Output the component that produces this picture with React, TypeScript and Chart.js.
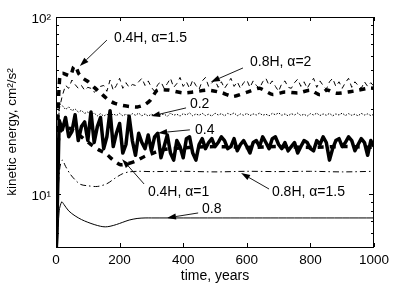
import React, { useEffect, useRef } from 'react';
import { Chart, registerables } from 'chart.js';
Chart.register(...registerables);

const FONT = '"Liberation Sans", Arial, Helvetica, sans-serif';

// sampled years for the noisy runs (every 10 years)
const years = Array.from({ length: 101 }, (_, i) => i * 10);

// 0.4 (thick solid, noisy)
const k04 = [
  4, 26, 23, 27, 21, 22.5, 28, 20, 24, 25.5,
  20, 29, 19.5, 24, 27, 18, 21, 29.5, 18.5, 22,
  25, 17, 19, 27.5, 20, 16.5, 22, 19.5, 18, 21.5,
  17.5, 21, 22, 16, 18.5, 21.5, 17, 15.5, 20, 18.5,
  16, 20.5, 21, 17, 15.5, 19, 20.5, 18, 19.5, 20.5,
  18.5, 19.5, 21, 20, 18, 18.5, 20.5, 17.5, 19, 20,
  18.5, 17, 19.5, 20, 18.5, 21, 19.5, 18, 20.5, 21,
  19, 18, 19.5, 17.5, 18.5, 19.5, 17, 18.5, 20, 19.5,
  18, 17.5, 20, 19, 21, 19.5, 15.5, 18, 20, 20.5,
  18.5, 19.5, 21, 20, 17.5, 19, 20.5, 19.5, 16.5, 20,
  18.5,
];

// 0.2 (thin dotted)
const k02 = [
  4, 32.6, 31.5, 30, 31, 29.5, 30.2, 29, 29.6, 28.5,
  29, 28, 28.6, 27.6, 28.4, 27.5, 28.2, 27.4, 28.3, 27.7,
  28.5, 27.6, 28.2, 27.5, 28.4, 27.8, 28.6, 27.6, 28.3, 27.5,
  28.2, 27.7, 28.5, 27.9, 28.3, 27.4, 28.6, 27.8, 28.2, 27.5,
  28.4, 27.9, 28.7, 27.6, 28.3, 27.8, 28.5, 27.7, 28.2, 27.5,
  28.6, 27.9, 28.4, 27.6, 28.5, 28.0, 28.7, 27.6, 28.3, 27.8,
  28.5, 27.7, 28.3, 27.9, 28.6, 27.8, 28.2, 27.6, 28.5, 28.0,
  28.7, 27.8, 28.3, 27.6, 28.4, 27.9, 28.6, 27.7, 28.2, 27.5,
  28.4, 27.9, 28.6, 27.7, 28.3, 27.8, 28.5, 27.6, 28.3, 27.9,
  28.6, 27.7, 28.4, 27.8, 28.2, 27.6, 28.5, 27.9, 28.3, 27.7,
  28.2,
];

// 0.8H, alpha=2 (thin dashed)
const k08a2 = [
  4, 30, 36, 41, 39.5, 44, 41.5, 39.5, 41, 38.5,
  40, 39.5, 37.5, 39, 40.5, 41, 38, 44, 38.5, 41,
  45, 39.5, 42.5, 40, 41.5, 41, 43, 45, 41, 43.5,
  40, 38, 41.5, 43, 39.5, 42, 45, 40, 42, 45.5,
  40.5, 43, 39.5, 44, 41, 39, 43.5, 45.5, 40.5, 42.5,
  44, 40, 43, 39.5, 42, 45, 40.5, 43, 39.5, 42.5,
  44, 40, 43.5, 41, 39.5, 43, 45, 41, 43.5, 40.5,
  38, 42, 43.5, 40, 39.5, 42.5, 44.5, 40.5, 43, 39.5,
  42.5, 45, 40, 43.5, 41, 39, 43, 45, 40.5, 43,
  39.5, 42.5, 45, 40, 43, 41, 39.5, 43, 40.5, 42.5,
  40.5,
];

// 0.4H, alpha=1.5 (thick dashed)
const t04a15 = [0, 5, 12, 20, 35, 46, 55, 61, 71, 85, 102, 120, 140, 165, 185, 203, 230, 256, 280, 297, 319, 354, 397, 430, 479, 523, 557, 601, 640, 680, 720, 761, 800, 830, 852, 880, 918, 950, 987, 1000];
const k04a15 = [4, 25, 46, 48, 47, 46.5, 52, 53, 48, 45, 42.9, 40, 37.2, 33.9, 32.5, 31.8, 31.2, 31, 32, 33.9, 38.6, 38.6, 37.2, 37.6, 38.6, 37.2, 35.5, 37.6, 39.5, 36.5, 37.6, 37.2, 38.5, 36.3, 38.7, 37, 37.6, 38.5, 39.7, 39.5];

// 0.4H, alpha=1 (thick dashed)
const t04a1 = [0, 5, 15, 30, 50, 80, 110, 140, 155, 180, 203, 225, 250, 280, 306, 340, 400, 500, 600, 700, 800, 900, 1000];
const k04a1 = [4, 18, 23, 24, 23, 21, 19, 17.5, 17, 15.5, 14.6, 14.8, 15.3, 16.3, 17, 17.8, 18.2, 18.5, 18.3, 18.5, 18.3, 18.5, 18.3];

// 0.8H, alpha=1.5 (thin dash-dot)
const t08a15 = [0, 5, 12, 20, 30, 45, 60, 77, 100, 130, 160, 187, 210, 230, 260, 300, 400, 500, 600, 700, 800, 900, 1000];
const k08a15 = [4, 9, 14, 15.5, 14.3, 12.9, 12, 11.3, 11.1, 11.0, 11.4, 12.3, 13, 13.3, 13.4, 13.35, 13.4, 13.3, 13.4, 13.35, 13.4, 13.3, 13.4];

// 0.8 (thin solid)
const t08 = [0, 5, 10, 18, 25, 40, 60, 80, 100, 120, 140, 155, 170, 190, 210, 230, 255, 280, 300, 400, 500, 600, 700, 800, 900, 1000];
const k08 = [4, 5.2, 8.0, 9.0, 8.7, 8.0, 7.5, 7.15, 6.9, 6.7, 6.55, 6.5, 6.55, 6.7, 6.9, 7.1, 7.25, 7.3, 7.3, 7.3, 7.3, 7.3, 7.3, 7.3, 7.3, 7.3];

const xTickValues = [0, 200, 400, 600, 800, 1000];
const yMajor = [10, 100];
const yMinor = [6, 7, 8, 9, 20, 30, 40, 50, 60, 70, 80, 90];

// annotation label anchors, arrow tails and tips, in data units (years, cm²/s²)
const notes = [
  { text: '0.4H, α=1.5', at: [182, 76], tail: [160, 74], tip: [75, 52.8] },
  { text: '0.8H, α=2', at: [610, 55.6], tail: [588, 51.5], tip: [487, 42.9] },
  { text: '0.2', at: [421, 32.2], tail: [409, 30.6], tip: [299, 27.5] },
  { text: '0.4', at: [437, 23], tail: [421, 23], tip: [321, 22.1] },
  { text: '0.4H, α=1', at: [289, 10.24], tail: [277, 11.36], tip: [208, 15.7] },
  { text: '0.8H, α=1.5', at: [679, 10.24], tail: [670, 10.64], tip: [582, 13.1] },
  { text: '0.8', at: [459, 8.2], tail: [447, 7.79], tip: [349, 7.3] },
];

const pts = (t: number[], v: number[]) => t.map((x, i) => ({ x, y: v[i] }));

const framePlugin = {
  id: 'frame',
  afterDatasetsDraw(chart: any) {
    const { ctx, chartArea: a, scales } = chart;
    const xs = scales.x;
    const ys = scales.y;
    ctx.save();
    ctx.strokeStyle = '#000';
    ctx.lineWidth = 1;
    ctx.strokeRect(a.left + 0.5, a.top + 0.5, a.right - a.left - 1, a.bottom - a.top);
    ctx.beginPath();
    for (const t of xTickValues) {
      const px = Math.round(xs.getPixelForValue(t)) + 0.5;
      ctx.moveTo(px, a.bottom);
      ctx.lineTo(px, a.bottom - 4);
      ctx.moveTo(px, a.top);
      ctx.lineTo(px, a.top + 4);
    }
    const yt = (v: number, len: number) => {
      const py = Math.round(ys.getPixelForValue(v)) + 0.5;
      ctx.moveTo(a.left, py);
      ctx.lineTo(a.left + len, py);
      ctx.moveTo(a.right, py);
      ctx.lineTo(a.right - len, py);
    };
    yMajor.forEach((v) => yt(v, 5));
    yMinor.forEach((v) => yt(v, 3));
    ctx.stroke();

    // annotations
    ctx.fillStyle = '#000';
    ctx.font = `14px ${FONT}`;
    ctx.textAlign = 'left';
    ctx.textBaseline = 'middle';
    for (const n of notes) {
      const tx = xs.getPixelForValue(n.at[0]);
      const ty = ys.getPixelForValue(n.at[1]);
      ctx.fillText(n.text, tx, ty);
      const x0 = xs.getPixelForValue(n.tail[0]);
      const y0 = ys.getPixelForValue(n.tail[1]);
      const x1 = xs.getPixelForValue(n.tip[0]);
      const y1 = ys.getPixelForValue(n.tip[1]);
      const ang = Math.atan2(y1 - y0, x1 - x0);
      const L = 9, W = 3;
      const bx = x1 - L * Math.cos(ang), by = y1 - L * Math.sin(ang);
      ctx.lineWidth = 0.9;
      ctx.beginPath();
      ctx.moveTo(x0, y0);
      ctx.lineTo(bx, by);
      ctx.stroke();
      ctx.beginPath();
      ctx.moveTo(x1, y1);
      ctx.lineTo(bx + W * Math.sin(ang), by - W * Math.cos(ang));
      ctx.lineTo(bx - W * Math.sin(ang), by + W * Math.cos(ang));
      ctx.closePath();
      ctx.fill();
    }
    ctx.restore();
  },
};

export default function App() {
  const ref = useRef<HTMLCanvasElement>(null);
  useEffect(() => {
    const base = { borderColor: '#000', pointRadius: 0, fill: false, clip: 0 };
    const chart = new Chart(ref.current as HTMLCanvasElement, {
      type: 'line',
      data: {
        datasets: [
          { ...base, label: '0.8', data: pts(t08, k08), borderWidth: 1, tension: 0.3 },
          { ...base, label: '0.8H, α=1.5', data: pts(t08a15, k08a15), borderWidth: 1, tension: 0.3, borderDash: [6, 3, 1.5, 3] },
          { ...base, label: '0.2', data: pts(years, k02), borderWidth: 1, borderDash: [1.5, 1.5] },
          { ...base, label: '0.8H, α=2', data: pts(years, k08a2), borderWidth: 1, borderDash: [5, 4] },
          { ...base, label: '0.4H, α=1', data: pts(t04a1, k04a1), borderWidth: 3.5, tension: 0.3, borderDash: [6, 6] },
          { ...base, label: '0.4', data: pts(years, k04), borderWidth: 3.5, borderJoinStyle: 'round' },
          { ...base, label: '0.4H, α=1.5', data: pts(t04a15, k04a15), borderWidth: 3.5, tension: 0.2, borderDash: [6, 6] },
        ] as any,
      },
      options: {
        responsive: false,
        animation: false,
        devicePixelRatio: 1,
        layout: { padding: { top: 17, right: 25, left: 0, bottom: 0 } },
        plugins: { legend: { display: false }, tooltip: { enabled: false } },
        scales: {
          x: {
            type: 'linear',
            min: 0,
            max: 1000,
            grid: { display: false, drawTicks: false },
            border: { display: false },
            ticks: {
              stepSize: 200,
              autoSkip: false,
              maxRotation: 0,
              padding: 5,
              color: '#000',
              font: { family: FONT, size: 13.5 },
              callback: (v: any) => String(v),
            },
            title: {
              display: true,
              text: 'time, years',
              color: '#000',
              font: { family: FONT, size: 14 },
              padding: { top: 0, bottom: 3 },
            },
            afterFit: (s: any) => { s.height = 41; },
          },
          y: {
            type: 'logarithmic',
            min: 5,
            max: 100,
            grid: { display: false, drawTicks: false },
            border: { display: false },
            ticks: {
              autoSkip: false,
              padding: 5,
              labelOffset: 2,
              color: '#000',
              font: { family: FONT, size: 13.5 },
              callback: (v: any) => {
                const l = Math.log10(Number(v));
                if (Math.abs(l - 1) < 1e-6) return '10¹';
                if (Math.abs(l - 2) < 1e-6) return '10²';
                return '';
              },
            },
            title: {
              display: true,
              text: 'kinetic energy, cm²/s²',
              color: '#000',
              font: { family: FONT, size: 13.5 },
              padding: { top: 4, bottom: 0 },
            },
            afterFit: (s: any) => { s.width = 56; },
          },
        },
      } as any,
      plugins: [framePlugin],
    });
    return () => chart.destroy();
  }, []);
  return (
    <div style={{ position: 'absolute', left: 0, top: 0, width: 399, height: 288, background: '#fff' }}>
      <canvas ref={ref} width={399} height={288} style={{ display: 'block', width: 399, height: 288 }} />
    </div>
  );
}
